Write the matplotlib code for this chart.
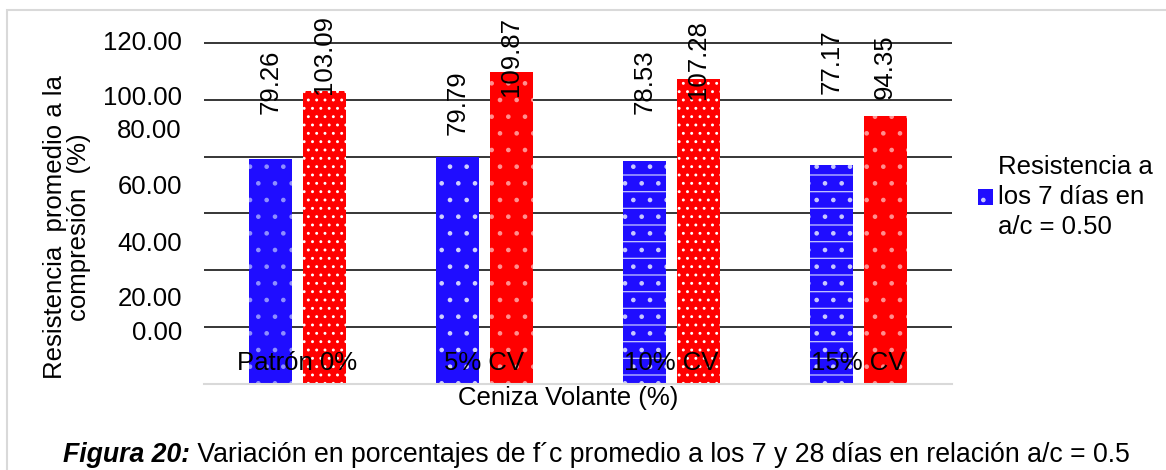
import matplotlib

matplotlib.use("Agg")
import matplotlib.pyplot as plt
import numpy as np
from matplotlib.patches import Patch, Rectangle

plt.rcParams["font.family"] = ["Liberation Sans", "DejaVu Sans"]
plt.rcParams["hatch.linewidth"] = 0.9

# Resistencia promedio (%) por dosificación de ceniza volante
categories = ["Patrón 0%", "5% CV", "10% CV", "15% CV"]
res_7_dias = [79.26, 79.79, 78.53, 77.17]
res_28_dias = [103.09, 109.87, 107.28, 94.35]

# where the rotated value labels start (data units) and where the y labels sit
label_y_7 = [94.9, 87.6, 94.9, 101.9]
label_y_28 = [101.9, 101.2, 100.1, 100.1]
ytick_text = ["0.00", "20.00", "40.00", "60.00", "80.00", "100.00", "120.00"]
ytick_pos = [18.8, 30.7, 50.2, 70.1, 89.7, 101.5, 121.0]
grid_vals = [20, 40, 60, 80, 100, 120]

BLUE = "#1f0dff"
RED = "#ff0000"
FS = 18.5

fig = plt.figure(figsize=(11.66, 4.70), dpi=100)
W, H = 1166, 470
ax = fig.add_axes([204 / W, (H - 384) / H, 748 / W, 344 / H])

# outer chart frame (only top/left edges fall inside the image)
fig.patches.append(Rectangle((7 / W, -0.1), 1.2, (H - 10) / H + 0.1,
                             transform=fig.transFigure, fill=False,
                             edgecolor="#d9d9d9", linewidth=1.5))

for g in grid_vals:
    ax.axhline(g, color="black", linewidth=1.1, zorder=1)

x = np.arange(len(categories))
off = 0.142
w = 0.23
hatch_7 = [".", ".", "-.", "-."]
hcol_7 = ["#8f8fff", "#d0d0ff", "#c8c8ff", "#c8c8ff"]
hatch_28 = ["..", ".", "..", "."]
hcol_28 = ["#ffffff", "#ff9090", "#ffffff", "#ff9090"]

bars7 = ax.bar(x - off, res_7_dias, w, color=BLUE, linewidth=0, zorder=2)
bars28 = ax.bar(x + off, res_28_dias, w, color=RED, linewidth=0, zorder=2)
for b, h, c in zip(bars7, hatch_7, hcol_7):
    b.set_hatch(h)
    b.set_edgecolor(c)
for b, h, c in zip(bars28, hatch_28, hcol_28):
    b.set_hatch(h)
    b.set_edgecolor(c)

for i in range(len(categories)):
    ax.text(x[i] - off, label_y_7[i], f"{res_7_dias[i]:.2f}", rotation=90,
            ha="center", va="bottom", fontsize=FS, clip_on=False, zorder=4)
    ax.text(x[i] + off, label_y_28[i], f"{res_28_dias[i]:.2f}", rotation=90,
            ha="center", va="bottom", fontsize=FS, clip_on=False, zorder=4)
    ax.text(x[i], 7.3, categories[i], ha="center", va="center",
            fontsize=FS, zorder=4)

ax.set_xlim(-0.5, 3.5)
ax.set_ylim(0, 120)
ax.set_xticks([])
ax.set_yticks(ytick_pos)
ax.set_yticklabels(ytick_text, fontsize=FS)
ax.tick_params(axis="y", length=0, pad=16)
for s in ["top", "right", "left"]:
    ax.spines[s].set_visible(False)
ax.spines["bottom"].set_color("#d9d9d9")
ax.spines["bottom"].set_linewidth(1.5)

fig.text(67 / W, (H - 227) / H, "Resistencia  promedio a la\ncompresión  (%)",
         rotation=90, ha="center", va="center", fontsize=FS, linespacing=0.95)
fig.text(568 / W, (H - 398) / H, "Ceniza Volante (%)", ha="center",
         va="center", fontsize=FS)

leg = fig.legend(handles=[Patch(facecolor=BLUE, hatch=".", edgecolor="#c8c8ff",
                                linewidth=0)],
                 labels=["Resistencia a\nlos 7 días en\na/c = 0.50"],
                 loc="center left", bbox_to_anchor=(978 / W, (H - 197) / H),
                 frameon=False, fontsize=FS, handlelength=0.58,
                 handleheight=0.58, handletextpad=0.2, borderpad=0,
                 borderaxespad=0)
leg.get_texts()[0].set_linespacing(1.3)

CAP_FS = 19.2
cap = fig.text(63 / W, (H - 455) / H, "Figura 20:", fontsize=CAP_FS,
               fontweight="bold", fontstyle="italic", va="center", ha="left")
ax.annotate(" Variación en porcentajes de f´c promedio a los 7 y 28 días en relación a/c = 0.5",
            xy=(1, 0.5), xycoords=cap, va="center", ha="left", fontsize=CAP_FS,
            annotation_clip=False)

fig.savefig("out.png", dpi=100)
